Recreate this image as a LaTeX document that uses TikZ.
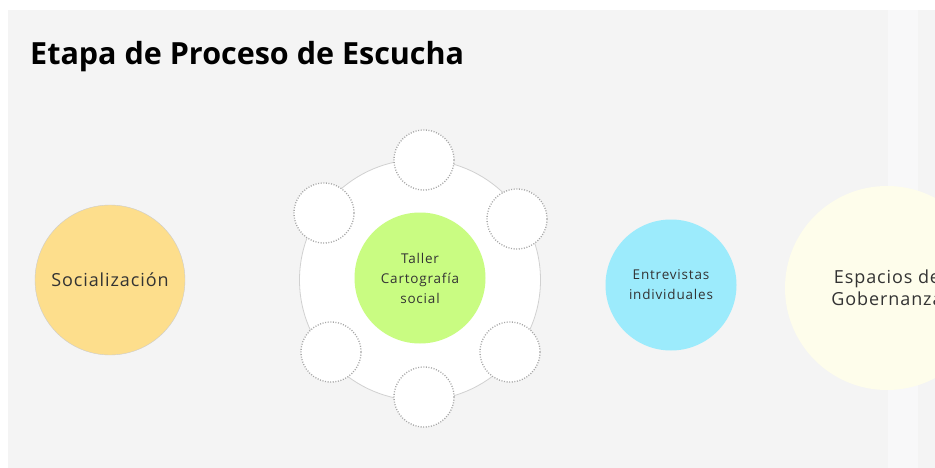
\documentclass[tikz,border=0pt]{standalone}
\usepackage{fontspec}
\setmainfont{Open Sans}
\definecolor{panelgray}{HTML}{F4F4F4}
\definecolor{stripgray}{HTML}{F8F8F9}
\definecolor{socyellow}{HTML}{FDDE8C}
\definecolor{tallergreen}{HTML}{C9FC82}
\definecolor{entcyan}{HTML}{9CEBFC}
\definecolor{govcream}{HTML}{FEFDEB}
\begin{document}
\begin{tikzpicture}[x=1pt, y=-1pt,
    stage/.style={circle, inner sep=0pt, align=center, text=black!80},
    bigtext/.style={font=\fontsize{18}{22}\selectfont\addfontfeature{LetterSpace=5}},
    smalltext/.style={font=\fontsize{13.5}{20}\selectfont\addfontfeature{LetterSpace=6}},
    slot/.style={circle, draw=black!35, line width=1.3pt, dash pattern=on 1pt off 1.6pt,
        fill=white, minimum size=60pt, inner sep=0pt}]
    % canvas and panel
    \useasboundingbox (0,0) rectangle (935,468);
    \clip (0,0) rectangle (935,468);
    \fill[white] (0,0) rectangle (935,468);
    \fill[panelgray] (8,10) rectangle (935,468);
    \fill[stripgray] (888,10) rectangle (918,468);

    % title
    \node[anchor=base west, inner sep=0pt, font=\bfseries\fontsize{30.5}{36}\selectfont] (title) at (30,65) {Etapa de Proceso de Escucha};

    % first stage
    \node[stage, bigtext, fill=socyellow, draw=black!20, minimum size=150pt] (soc) at (110,280) {Socialización};

    % workshop with its ring of empty slots
    \node[circle, fill=white, draw=black!18, line width=0.8pt, minimum size=241pt] (ring) at (420,280) {};
    \node[stage, smalltext, fill=tallergreen, minimum size=131pt] (taller) at (420,278) {Taller\\Cartografía\\social};
    \foreach \name/\px/\py in {top/424/160, upright/517/219, lowright/510/352,
                               bottom/424/397, lowleft/331/352, upleft/324/213}
        \node[slot] (\name) at (\px,\py) {};

    % interviews
    \node[stage, smalltext, fill=entcyan, minimum size=131pt] (entrev) at (671,285) {Entrevistas\\individuales};

    % governance spaces (cut at the right edge)
    \node[stage, bigtext, fill=govcream, minimum size=204pt] (gob) at (887,288) {Espacios de\\Gobernanza};
\end{tikzpicture}
\end{document}
